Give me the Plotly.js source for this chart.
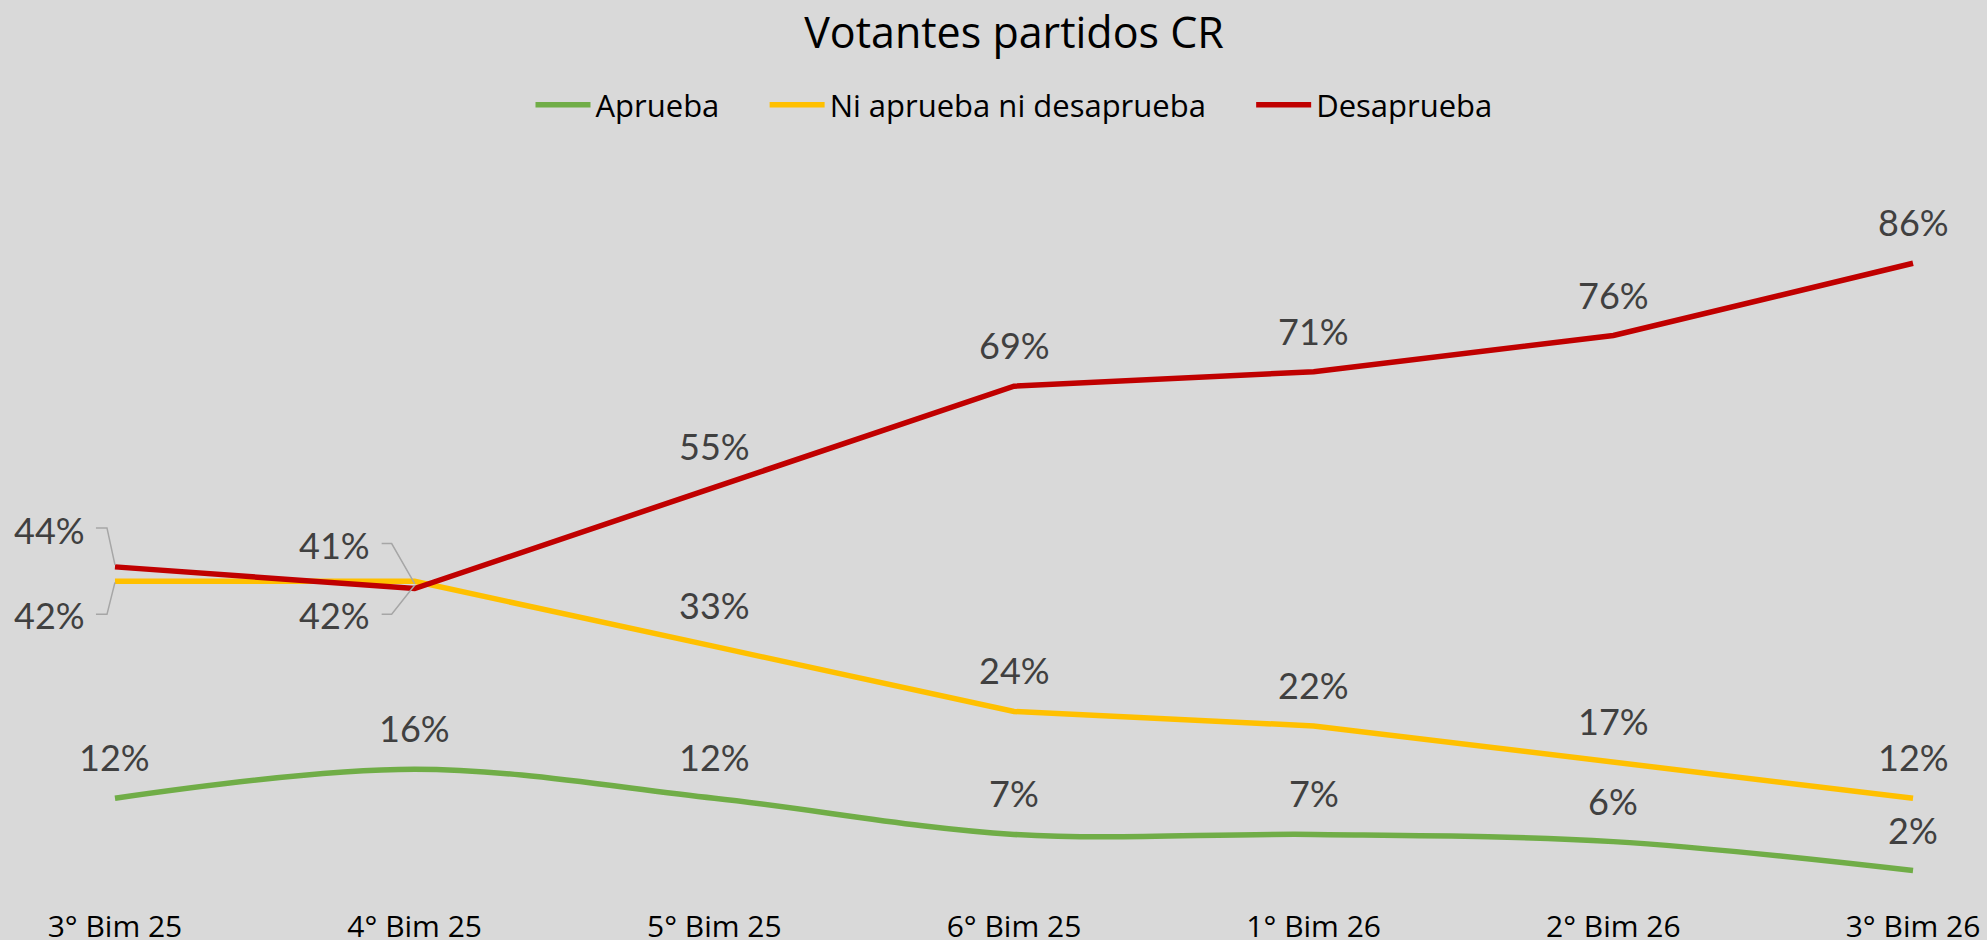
<!DOCTYPE html>
<html>
<head>
<meta charset="utf-8">
<script src="https://cdn.plot.ly/plotly-3.0.1.min.js"></script>
<style>
  html, body { margin: 0; padding: 0; background: #D9D9D9; }
  #chart { width: 1987px; height: 940px; }
</style>
</head>
<body>
<div id="chart"></div>
<script>
// ---- Data ----
const categories = ["3° Bim 25", "4° Bim 25", "5° Bim 25", "6° Bim 25", "1° Bim 26", "2° Bim 26", "3° Bim 26"];
const aprueba = [12, 16, 12, 7, 7, 6, 2];
const niApruebaNiDesaprueba = [42, 42, 33, 24, 22, 17, 12];
const desaprueba = [44, 41, 55, 69, 71, 76, 86];
const seriesNames = ["Aprueba", "Ni aprueba ni desaprueba", "Desaprueba"];

// ---- Styles ----
const colors = ["#70AD47", "#FFC000", "#C00000"];
const labelFont = { family: "Lato, 'Open Sans', sans-serif", size: 36, color: "#404040" };
const leaderColor = "#A6A6A6";
const legendPad = "\u00a0\u00a0\u00a0\u00a0\u00a0";

const allSeries = [aprueba, niApruebaNiDesaprueba, desaprueba];

const traces = allSeries.map((vals, i) => ({
  type: "scatter",
  mode: "lines",
  x: categories,
  y: vals,
  name: seriesNames[i] + (i < allSeries.length - 1 ? legendPad : ""),
  line: { color: colors[i], width: 5.5, shape: i === 0 ? "spline" : "linear", smoothing: 1 },
  hoverinfo: "skip"
}));

// Special callout labels (series index, point index) -> pixel offset of the label and leader path
const callouts = {
  "2-0": { dx: -65, dy: 37, path: "M -19 39 L -8 39 L 0 2" },
  "1-0": { dx: -65, dy: -34, path: "M -19 -33 L -8 -33 L 0 -1" },
  "2-1": { dx: -80, dy: 44, path: "M -33 45 L -23 45 L 0 5" },
  "1-1": { dx: -80, dy: -34, path: "M -33 -33 L -23 -33 L 0 -4" }
};

const annotations = [];
const shapes = [];
allSeries.forEach((vals, s) => {
  vals.forEach((v, p) => {
    const key = s + "-" + p;
    const c = callouts[key];
    annotations.push({
      x: p, y: v, xref: "x", yref: "y",
      text: Math.round(v) + "%",
      showarrow: false,
      xanchor: "center", yanchor: "middle",
      xshift: c ? c.dx : 0,
      yshift: c ? c.dy : 41,
      font: labelFont
    });
    if (c) {
      shapes.push({
        type: "path",
        xref: "x", yref: "y",
        xsizemode: "pixel", ysizemode: "pixel",
        xanchor: p, yanchor: v,
        path: c.path,
        line: { color: leaderColor, width: 1.5 },
        layer: "above"
      });
    }
  });
});

const layout = {
  width: 1987,
  height: 940,
  paper_bgcolor: "#D9D9D9",
  plot_bgcolor: "#D9D9D9",
  margin: { l: 85, r: 44, t: 162, b: 55 },
  title: {
    text: "Votantes partidos CR",
    font: { family: "'Open Sans', sans-serif", size: 43, color: "#000000" },
    x: 0.5, xanchor: "center", xref: "paper",
    y: 1 - 33 / 940, yanchor: "middle", yref: "container"
  },
  showlegend: true,
  legend: {
    orientation: "h",
    x: 0.5, xanchor: "center",
    y: 1 - 105 / 940, yanchor: "middle", yref: "container",
    font: { family: "'Open Sans', sans-serif", size: 31, color: "#000000" },
    bgcolor: "rgba(0,0,0,0)",
    itemwidth: 55,
    traceorder: "normal"
  },
  xaxis: {
    type: "category",
    range: [-0.1, 6.1],
    showgrid: false,
    showline: false,
    zeroline: false,
    ticks: "",
    ticklabelstandoff: 21,
    tickfont: { family: "'Open Sans', sans-serif", size: 30, color: "#000000" },
    fixedrange: true
  },
  yaxis: {
    range: [0, 100],
    visible: false,
    showgrid: false,
    zeroline: false,
    fixedrange: true
  },
  annotations: annotations,
  shapes: shapes,
  hovermode: false
};

Plotly.newPlot("chart", traces, layout, { displayModeBar: false, staticPlot: true });
</script>
</body>
</html>
